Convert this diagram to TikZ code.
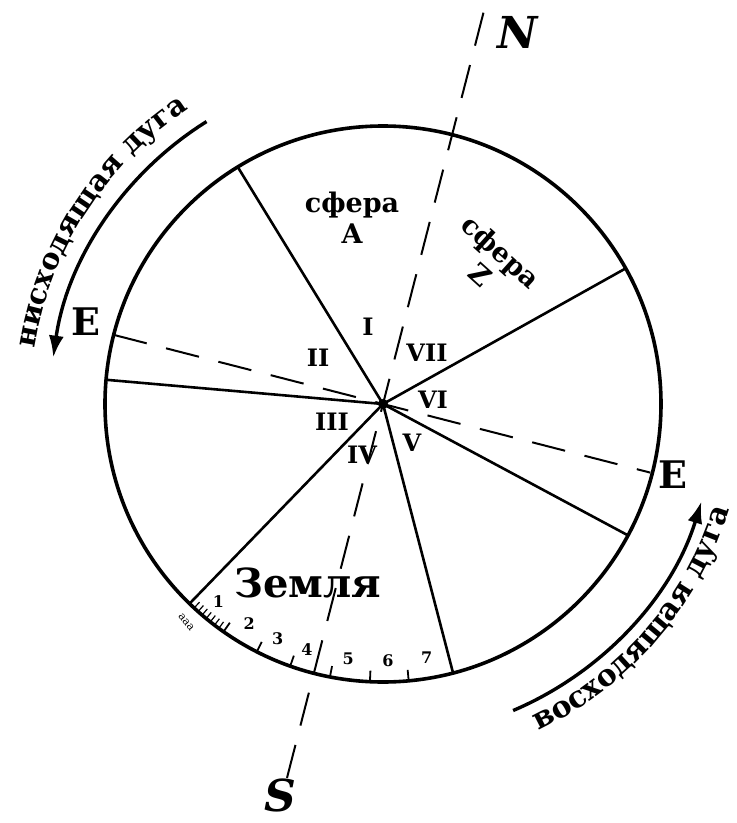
\documentclass[tikz,border=0pt]{standalone}
\usepackage{fontspec}
\setmainfont{DejaVu Serif}
\usetikzlibrary{arrows.meta,decorations.text}

\begin{document}
\begin{tikzpicture}[
        x=1pt, y=1pt,
        rim/.style={line width=3.6pt},
        spoke/.style={line width=2.6pt},
        axis/.style={line width=2pt, dash pattern=on 34pt off 20pt},
        arcarrow/.style={line width=3.4pt, -{Latex[length=22pt,width=15pt]}},
        numeral/.style={font=\fontsize{24}{24}\selectfont\bfseries},
        pole/.style={font=\fontsize{44}{44}\selectfont\bfseries\itshape},
        eastlabel/.style={font=\fontsize{38}{38}\selectfont\bfseries},
        sphere/.style={font=\fontsize{27}{31}\selectfont\bfseries, align=center, inner sep=0pt},
        scalenum/.style={font=\fontsize{16}{16}\selectfont\bfseries, inner sep=0pt},
        tickmark/.style={line width=1.8pt}
    ]
    \useasboundingbox (-383,-419) rectangle (354,404);

    % ==========================================
    % RIM AND SPOKES
    % ==========================================
    \coordinate (O) at (0,0);
    \draw[rim] (O) circle[radius=278pt];
    \foreach \a in {29.2,121.5,175,225.9,284.6,331.8}
        \draw[spoke] (O) -- (\a:278);

    % ==========================================
    % AXES N-S AND E-E
    % ==========================================
    \coordinate (N) at (75.6:404);
    \coordinate (S) at (255.6:388);
    \coordinate (Ew) at (165.6:278);
    \coordinate (Ee) at (-14.4:276);
    \draw[axis] (N) -- (S);
    \draw[axis] (Ew) -- (Ee);
    \fill (O) circle[radius=5pt];

    \node[pole] (lN) at (135,372) {N};
    \node[pole] (lS) at (-103,-391) {S};
    \node[eastlabel] (lEw) at (-297,82) {E};
    \node[eastlabel] (lEe) at (290,-71) {E};

    % ==========================================
    % SECTORS
    % ==========================================
    \node[numeral] (r1) at (-15,77) {I};
    \node[numeral] (r2) at (-65,46) {II};
    \node[numeral] (r3) at (-51,-18) {III};
    \node[numeral] (r4) at (-21,-51) {IV};
    \node[numeral] (r5) at (29,-39) {V};
    \node[numeral] (r6) at (50,4) {VI};
    \node[numeral] (r7) at (44,51) {VII};

    \node[sphere] (sphA) at (-31,186) {сфера\\А};
    \node[sphere, rotate=-42] (sphZ) at (108,141) {сфера\\Z};
    \node[font=\fontsize{40}{40}\selectfont\bfseries] (earth) at (-75,-179) {Земля};

    % scale on the rim
    \foreach \a in {235,243,250.5,259,267.3,275.3}
        \draw[tickmark] (\a:278) -- (\a:267);
    \foreach \a in {227.2,228.3,...,234}
        \draw[tickmark, line width=1.2pt] (\a:278) -- (\a:270);
    \foreach \n/\a in {1/230.2,2/238.6,3/245.8,4/252.8,5/262.2,6/271.1,7/279.8}
        \node[scalenum] (n\n) at (\a:257) {\n};
    \node[font=\fontsize{11}{11}\selectfont, rotate=-51] (fine) at (228:294) {ааа};

    % ==========================================
    % ARCS
    % ==========================================
    \draw[arcarrow] (122:333) arc[start angle=122, end angle=172, radius=333pt];
    \draw[arcarrow] (293:333) arc[start angle=293, end angle=343, radius=333pt];

    \path[decorate, decoration={text along path,
        text={|\fontsize{29}{29}\selectfont\bfseries|нисходящая дуга}}]
        (171:353) arc[start angle=171, end angle=105, radius=353pt];
    \path[decorate, decoration={text along path,
        text={|\fontsize{30}{30}\selectfont\bfseries|восходящая дуга}}]
        (295.5:362) arc[start angle=295.5, end angle=360, radius=362pt];

\end{tikzpicture}
\end{document}
